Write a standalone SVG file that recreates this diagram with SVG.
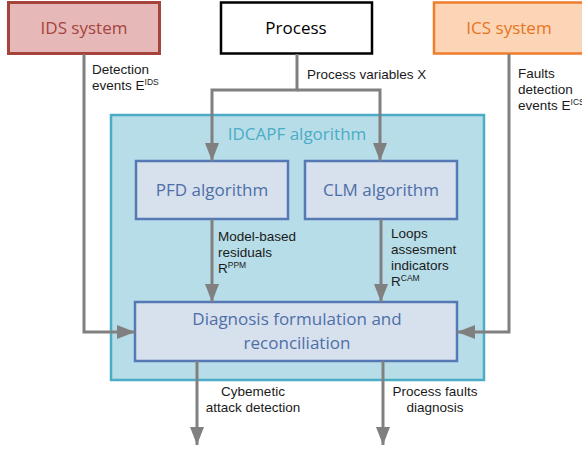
<svg xmlns="http://www.w3.org/2000/svg" width="582" height="450" viewBox="0 0 582 450">
  <style>
    .box-title { font-family: "Open Sans", "Liberation Sans", sans-serif; font-size: 17px; text-anchor: middle; }
    .inner { fill: #d7e0ed; stroke: #5579b5; stroke-width: 2.5; }
    .inner-text { font-family: "Open Sans", "Liberation Sans", sans-serif; font-size: 17px; fill: #4d6fa8; text-anchor: middle; }
    .lbl { font-family: "Liberation Sans", Arial, sans-serif; font-size: 13.5px; fill: #1a1a1a; }
    .sup { font-size: 8.5px; }
    .wire { fill: none; stroke: #808080; stroke-width: 3; }
  </style>
  <defs>
    <marker id="arrow" viewBox="0 0 18 14" refX="18" refY="7" markerWidth="18" markerHeight="14" markerUnits="userSpaceOnUse" orient="auto">
      <path d="M0,0 L18,7 L0,14 Z" fill="#808080"/>
    </marker>
  </defs>

  <rect width="582" height="450" fill="#ffffff"/>

  <!-- external systems -->
  <g id="ids">
    <rect x="8.5" y="2.5" width="151" height="51" fill="#e6b8b7" stroke="#a5433d" stroke-width="3"/>
    <text class="box-title" x="84" y="34" fill="#a5433d">IDS system</text>
  </g>
  <g id="process">
    <rect x="221" y="2.5" width="151" height="51" fill="#ffffff" stroke="#000000" stroke-width="2.5"/>
    <text class="box-title" x="296" y="34" fill="#000000">Process</text>
  </g>
  <g id="ics">
    <rect x="434" y="2.5" width="160" height="51" fill="#fbd5b5" stroke="#f07d2b" stroke-width="2.5"/>
    <text class="box-title" x="509" y="34" fill="#e8741f">ICS system</text>
  </g>

  <!-- algorithm container -->
  <g id="idcapf">
    <rect x="111" y="115" width="373" height="265" fill="#b7dde8" stroke="#4bacc6" stroke-width="2.5"/>
    <text class="box-title" x="297" y="140" fill="#4bacc6">IDCAPF algorithm</text>
  </g>
  <g id="pfd">
    <rect class="inner" x="136" y="161" width="152" height="58"/>
    <text class="inner-text" x="212" y="196">PFD algorithm</text>
  </g>
  <g id="clm">
    <rect class="inner" x="305" y="161" width="152" height="58"/>
    <text class="inner-text" x="381" y="196">CLM algorithm</text>
  </g>
  <g id="diagnosis">
    <rect class="inner" x="135" y="302" width="322" height="59"/>
    <text class="inner-text" x="297" y="325">Diagnosis formulation and</text>
    <text class="inner-text" x="297" y="349">reconciliation</text>
  </g>

  <!-- connectors -->
  <g id="connectors">
    <path class="wire" d="M84,54 V332 H135" marker-end="url(#arrow)"/>
    <path class="wire" d="M509,54 V332 H457" marker-end="url(#arrow)"/>
    <path class="wire" d="M297,54 V90 H212 V161" marker-end="url(#arrow)"/>
    <path class="wire" d="M297,90 H380 V161" marker-end="url(#arrow)"/>
    <path class="wire" d="M212,219 V302" marker-end="url(#arrow)"/>
    <path class="wire" d="M381,219 V302" marker-end="url(#arrow)"/>
    <path class="wire" d="M197,361 V445" marker-end="url(#arrow)"/>
    <path class="wire" d="M383,361 V445" marker-end="url(#arrow)"/>
  </g>

  <!-- connector labels -->
  <g id="labels">
    <text class="lbl" x="92" y="74">Detection</text>
    <text class="lbl" x="92" y="90">events E<tspan class="sup" dy="-5">IDS</tspan></text>
    <text class="lbl" x="307" y="79">Process variables X</text>
    <text class="lbl" x="518" y="78">Faults</text>
    <text class="lbl" x="518" y="94">detection</text>
    <text class="lbl" x="518" y="110">events E<tspan class="sup" dy="-5">ICS</tspan></text>
    <text class="lbl" x="218" y="241">Model-based</text>
    <text class="lbl" x="218" y="257">residuals</text>
    <text class="lbl" x="218" y="273">R<tspan class="sup" dy="-5">PPM</tspan></text>
    <text class="lbl" x="391" y="238">Loops</text>
    <text class="lbl" x="391" y="254">assesment</text>
    <text class="lbl" x="391" y="270">indicators</text>
    <text class="lbl" x="391" y="286">R<tspan class="sup" dy="-5">CAM</tspan></text>
    <text class="lbl" x="253" y="396" text-anchor="middle">Cybemetic</text>
    <text class="lbl" x="253" y="412" text-anchor="middle">attack detection</text>
    <text class="lbl" x="435" y="396" text-anchor="middle">Process faults</text>
    <text class="lbl" x="435" y="412" text-anchor="middle">diagnosis</text>
  </g>
</svg>
